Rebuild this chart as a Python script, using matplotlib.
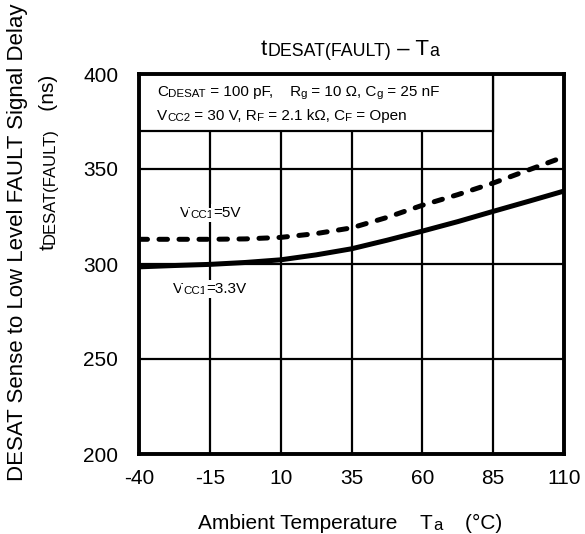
import re
import matplotlib.pyplot as plt
from matplotlib.patches import Rectangle

# -------------------------------
# Data
# -------------------------------
temp = [-40, -27.5, -15, -2.5, 10, 22.5, 35, 47.5, 60, 72.5, 85, 97.5, 110]
delay_3v3 = [298.5, 299.2, 299.8, 300.8, 302.2, 304.8, 308.0, 312.5, 317.3, 322.3, 327.7, 333.0, 338.4]
delay_5v = [313.0, 313.0, 313.0, 313.2, 314.0, 316.0, 319.0, 324.5, 330.9, 336.5, 342.6, 349.5, 356.4]

x_ticks = [-40, -15, 10, 35, 60, 85, 110]
y_ticks = [200, 250, 300, 350, 400]

W, H = 585, 534

# -------------------------------
# Style
# -------------------------------
plt.rcParams['font.family'] = ['Liberation Sans', 'DejaVu Sans']
plt.rcParams['axes.unicode_minus'] = False

fig = plt.figure(figsize=(W / 100, H / 100), dpi=100)
ax = fig.add_axes([139 / W, 1 - 454 / H, 425 / W, 380 / H])


def rich_text(x, y, s, size, sub=0.8, rotation=0, box=False):
    """Draw text with _{...} subscripts; x, y = start of baseline in pixels from top-left."""
    parts = re.split(r'_\{(.*?)\}', s)
    bbox = dict(facecolor='white', edgecolor='none', pad=1.5) if box else None
    prev = None
    for i, p in enumerate(parts):
        if not p:
            continue
        fs = size * sub if i % 2 else size
        kw = dict(fontsize=fs, rotation=rotation, rotation_mode='anchor',
                  ha='left', zorder=6, bbox=bbox, annotation_clip=False)
        if prev is None:
            prev = ax.annotate(p, xy=(x, H - y), xycoords='figure pixels', va='baseline', **kw)
        else:
            anchor = (1, 0) if rotation == 0 else (1, 1)
            prev = ax.annotate(p, xy=anchor, xycoords=prev, va='bottom', **kw)


ax.set_xlim(-40, 110)
ax.set_ylim(200, 400)
ax.set_xticks(x_ticks)
ax.set_yticks(y_ticks)
ax.tick_params(axis='both', length=0, labelsize=15, colors='black')
ax.tick_params(axis='x', pad=11)
ax.tick_params(axis='y', pad=15)
ax.grid(True, color='black', linewidth=1.6, zorder=1)
for s in ax.spines.values():
    s.set_linewidth(2.8)
    s.set_zorder(6)

# condition box (covers the grid at the top left)
ax.add_patch(Rectangle((-40, 370), 125, 30, facecolor='white', edgecolor='black',
                       linewidth=1.6, zorder=4))
rich_text(157, 96, 'C_{DESAT} = 100 pF,    R_{g} = 10 Ω, C_{g} = 25 nF', 11, sub=0.75)
rich_text(157, 120, 'V_{CC2} = 30 V, R_{F} = 2.1 kΩ, C_{F} = Open', 11, sub=0.75)

# curves
ax.plot(temp, delay_3v3, color='black', linewidth=3.6, zorder=3)
ax.plot(temp, delay_5v, color='black', linewidth=3.6, linestyle=(0, (1.7, 2.3)),
        dash_capstyle='round', zorder=3)

rich_text(180, 217, 'V_{CC1}=5V', 11, sub=0.75, box=True)
rich_text(173, 293, 'V_{CC1}=3.3V', 11, sub=0.75, box=True)

# title and axis labels
rich_text(261, 55, 't_{DESAT(FAULT)} – T_{a}', 16)
rich_text(198, 529, 'Ambient Temperature    T_{a}    (°C)', 15)
rich_text(22.5, 481, 'DESAT Sense to Low Level FAULT Signal Delay', 16, rotation=90)
rich_text(54, 250, 't_{DESAT(FAULT)}   (ns)', 15, rotation=90)

plt.savefig('out.png', dpi=100)
plt.close()
